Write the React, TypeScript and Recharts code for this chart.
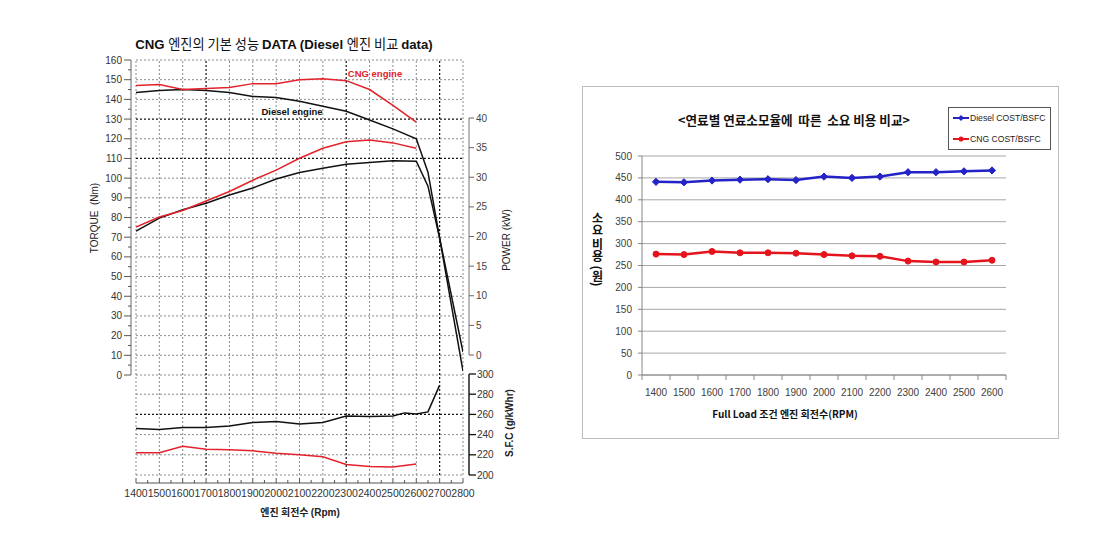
import React from 'react';
import { LineChart, Line, XAxis, YAxis, CartesianGrid, ReferenceLine } from 'recharts';

const W = 1103;
const H = 556;

// ---------------- Left chart: CNG vs Diesel engine performance ----------------
const rpmGrid = [1400, 1500, 1600, 1700, 1800, 1900, 2000, 2100, 2200, 2300, 2400, 2500, 2600, 2700, 2800];
const rpmBoldGrid = [1700, 2300, 2700];
const rpmAxisTicks = [1400, 1450, 1500, 1550, 1600, 1650, 1700, 1750, 1800, 1850, 1900, 1950, 2000, 2050, 2100, 2150, 2200, 2250, 2300, 2350, 2400, 2450, 2500, 2550, 2600, 2650, 2700, 2750, 2800];
const rpmCng = [1400, 1500, 1600, 1700, 1800, 1900, 2000, 2100, 2200, 2300, 2400, 2500, 2600];
const rpmDiesel = [1400, 1500, 1600, 1700, 1800, 1900, 2000, 2100, 2200, 2300, 2400, 2500, 2600, 2650, 2700, 2800];
const cngTorque = [147, 147.5, 145, 145.5, 146, 148, 148, 150, 150.5, 149.5, 145, 137, 128.5];
const dieselTorque = [143.5, 144.5, 145, 144.5, 143.5, 141.5, 141, 139, 136.5, 134, 129.5, 125, 120, 103, 69.5, 2];
const cngPower = [21.6, 23.3, 24.4, 26.0, 27.6, 29.5, 31.2, 33.2, 34.9, 36.0, 36.3, 35.8, 34.9];
const dieselPower = [20.9, 23.1, 24.5, 25.6, 27.0, 28.2, 29.7, 30.8, 31.5, 32.2, 32.5, 32.8, 32.7, 28.5, 19.7, 0.5];
const rpmDieselSfc = [1400, 1500, 1600, 1700, 1800, 1900, 2000, 2100, 2200, 2300, 2400, 2500, 2550, 2600, 2650, 2700];
const dieselSfc = [246, 245, 247, 247, 248.5, 252, 253, 250.5, 252, 258.5, 258, 258.5, 261.5, 260.5, 262.5, 289];
const cngSfc = [222, 222, 228.5, 225.5, 225, 224, 221.5, 220, 218, 210.5, 208.5, 208, 211];
const torqueTicks = [0, 5, 10, 15, 20, 25, 30, 35, 40, 45, 50, 55, 60, 65, 70, 75, 80, 85, 90, 95, 100, 105, 110, 115, 120, 125, 130, 135, 140, 145, 150, 155, 160];
const torqueGrid = [0, 10, 20, 30, 40, 50, 60, 70, 80, 90, 100, 110, 120, 130, 140, 150, 160];
const torqueBoldGrid = [110, 130];
const powerTicks = [0, 5, 10, 15, 20, 25, 30, 35, 40];
const sfcTicks = [200, 220, 240, 260, 280, 300];
const sfcGrid = [200, 220, 240, 260, 280];
const sfcBoldGrid = [260];

// ---------------- Right chart: cost comparison ----------------
const costRpm = [1400, 1500, 1600, 1700, 1800, 1900, 2000, 2100, 2200, 2300, 2400, 2500, 2600];
const dieselCost = [441, 440, 444, 446, 447, 445, 453, 450, 453, 463, 463, 465, 467];
const cngCost = [276, 275, 282, 279, 279, 278, 275, 272, 271, 260, 258, 258, 262];
const costYTicks = [0, 50, 100, 150, 200, 250, 300, 350, 400, 450, 500];
const costXTicks = [1350, 1400, 1450, 1500, 1550, 1600, 1650, 1700, 1750, 1800, 1850, 1900, 1950, 2000, 2050, 2100, 2150, 2200, 2250, 2300, 2350, 2400, 2450, 2500, 2550, 2600, 2650];

const zip = (xs: number[], ys: number[]) => xs.map((rpm, i) => ({ rpm, v: ys[i] }));
const cngTorqueData = zip(rpmCng, cngTorque);
const dieselTorqueData = zip(rpmDiesel, dieselTorque);
const cngPowerData = zip(rpmCng, cngPower);
const dieselPowerData = zip(rpmDiesel, dieselPower);
const cngSfcData = zip(rpmCng, cngSfc);
const dieselSfcData = zip(rpmDieselSfc, dieselSfc);
const costData = costRpm.map((rpm, i) => ({ rpm, diesel: dieselCost[i], cng: cngCost[i] }));

const FONT = "'Liberation Sans', Arial, 'Noto Sans CJK KR', sans-serif";
const KFONT = "'Noto Sans CJK KR', 'Liberation Sans', sans-serif";
const RED = '#e3222b';
const BLACK = '#111111';
const GRID = '#8a8a8a';
const GRID_BOLD = '#111111';
const BLUE = '#2323c8';
const RED2 = '#e5141c';

const layer: React.CSSProperties = { position: 'absolute', left: 0, top: 0, width: W, height: H };
const xPad = { left: 5, right: 6 };

const TorqueTick = (p: any) => {
  const { x, y, payload } = p;
  const v = payload.value;
  const major = v % 10 === 0;
  return (
    <g>
      <line x1={x} x2={x - (major ? 7 : 3)} y1={y} y2={y} stroke="#555" />
      {major && (
        <text x={x - 9} y={y} dy="0.35em" textAnchor="end" fontSize={10} fill="#333">
          {v}
        </text>
      )}
    </g>
  );
};

const PowerTick = (p: any) => {
  const { x, y, payload } = p;
  return (
    <g>
      <line x1={x} x2={x + 5} y1={y} y2={y} stroke="#666" />
      <text x={x + 7} y={y} dy="0.35em" textAnchor="start" fontSize={10} fill="#444">
        {payload.value}
      </text>
    </g>
  );
};

const SfcTick = (p: any) => {
  const { x, y, payload } = p;
  return (
    <g>
      <line x1={x} x2={x + 7} y1={y} y2={y} stroke="#111" strokeWidth={1.3} />
      <text x={x + 8} y={y} dy="0.35em" textAnchor="start" fontSize={10} fill="#333">
        {payload.value}
      </text>
    </g>
  );
};

const RpmTick = (p: any) => {
  const { x, y, payload } = p;
  const v = payload.value;
  const major = v % 100 === 0;
  return (
    <g>
      <line x1={x} x2={x} y1={y} y2={y - (major ? 5 : 3)} stroke="#555" />
      {major && (
        <text x={x} y={y + 10} dy="0.35em" textAnchor="middle" fontSize={10.5} fill="#333">
          {v}
        </text>
      )}
    </g>
  );
};

const CostXTick = (p: any) => {
  const { x, y, payload } = p;
  const v = payload.value;
  if (v % 100 === 50) return <line x1={x} x2={x} y1={y} y2={y + 5} stroke="#868686" />;
  return (
    <text x={x} y={y + 17} dy="0.35em" textAnchor="middle" fontSize={10} fill="#404040">
      {v}
    </text>
  );
};

const renderDiamond = (p: any) => {
  const { cx, cy, index } = p;
  if (cx == null || cy == null) return <g key={'d' + index} />;
  const s = 3.6;
  return (
    <path
      key={'d' + index}
      d={`M${cx},${cy - s}L${cx + s},${cy}L${cx},${cy + s}L${cx - s},${cy}Z`}
      fill={BLUE}
      stroke={BLUE}
    />
  );
};

const Txt = ({ x, y, rot = 0, style, children }: any) => (
  <div
    style={{
      position: 'absolute',
      left: x,
      top: y,
      transform: `translate(-50%, -50%) rotate(${rot}deg)`,
      whiteSpace: 'pre',
      lineHeight: 1,
      ...style,
    }}
  >
    {children}
  </div>
);

export default function App() {
  return (
    <div style={{ position: 'absolute', left: 0, top: 0, width: W, height: H, background: '#fff', fontFamily: FONT, overflow: 'hidden' }}>
      {/* Upper section: torque */}
      <div style={layer}>
        <LineChart width={W} height={H} margin={{ top: 60, right: 634, bottom: 181, left: 86 }}>
          <XAxis type="number" dataKey="rpm" domain={[1400, 2800]} ticks={rpmGrid} padding={xPad} hide allowDataOverflow />
          <YAxis
            yAxisId="t"
            type="number"
            domain={[0, 160]}
            ticks={torqueTicks}
            interval={0}
            width={45}
            tickLine={false}
            tickSize={0}
            tickMargin={0}
            axisLine={{ stroke: '#666' }}
            tick={<TorqueTick />}
            allowDataOverflow
          />
          {rpmGrid.map((r) => (
            <ReferenceLine
              key={'v' + r}
              yAxisId="t"
              x={r}
              stroke={rpmBoldGrid.includes(r) ? GRID_BOLD : GRID}
              strokeWidth={rpmBoldGrid.includes(r) ? 1.2 : 1}
              strokeDasharray="2 2"
            />
          ))}
          {torqueGrid.map((v) => (
            <ReferenceLine
              key={'h' + v}
              yAxisId="t"
              segment={[{ x: 1400, y: v }, { x: 2800, y: v }]}
              stroke={torqueBoldGrid.includes(v) ? GRID_BOLD : GRID}
              strokeWidth={torqueBoldGrid.includes(v) ? 1.2 : 1}
              strokeDasharray="2 2"
            />
          ))}
          <Line yAxisId="t" data={dieselTorqueData} dataKey="v" stroke={BLACK} strokeWidth={1.5} dot={false} isAnimationActive={false} />
          <Line yAxisId="t" data={cngTorqueData} dataKey="v" stroke={RED} strokeWidth={1.5} dot={false} isAnimationActive={false} />
        </LineChart>
      </div>

      {/* Upper section: power */}
      <div style={layer}>
        <LineChart width={W} height={H} margin={{ top: 118, right: 589, bottom: 201, left: 131 }}>
          <XAxis type="number" dataKey="rpm" domain={[1400, 2800]} ticks={rpmGrid} padding={xPad} hide allowDataOverflow />
          <YAxis
            yAxisId="p"
            orientation="right"
            type="number"
            domain={[0, 40]}
            ticks={powerTicks}
            interval={0}
            width={45}
            tickLine={false}
            tickSize={0}
            tickMargin={0}
            axisLine={{ stroke: '#777' }}
            tick={<PowerTick />}
            allowDataOverflow
          />
          <Line yAxisId="p" data={dieselPowerData} dataKey="v" stroke={BLACK} strokeWidth={1.5} dot={false} isAnimationActive={false} />
          <Line yAxisId="p" data={cngPowerData} dataKey="v" stroke={RED} strokeWidth={1.5} dot={false} isAnimationActive={false} />
        </LineChart>
      </div>

      {/* Lower section: S.F.C */}
      <div style={layer}>
        <LineChart width={W} height={H} margin={{ top: 374, right: 589, bottom: 81, left: 131 }}>
          <XAxis type="number" dataKey="rpm" domain={[1400, 2800]} ticks={rpmGrid} padding={xPad} hide allowDataOverflow />
          <YAxis
            yAxisId="s"
            orientation="right"
            type="number"
            domain={[200, 300]}
            ticks={sfcTicks}
            interval={0}
            width={45}
            tickLine={false}
            tickSize={0}
            tickMargin={0}
            axisLine={{ stroke: '#111', strokeWidth: 1.4 }}
            tick={<SfcTick />}
            allowDataOverflow
          />
          {rpmGrid.map((r) => (
            <ReferenceLine
              key={'sv' + r}
              yAxisId="s"
              x={r}
              stroke={rpmBoldGrid.includes(r) ? GRID_BOLD : GRID}
              strokeWidth={rpmBoldGrid.includes(r) ? 1.2 : 1}
              strokeDasharray="2 2"
            />
          ))}
          {sfcGrid.map((v) => (
            <ReferenceLine
              key={'sh' + v}
              yAxisId="s"
              segment={[{ x: 1400, y: v }, { x: 2800, y: v }]}
              stroke={sfcBoldGrid.includes(v) ? GRID_BOLD : GRID}
              strokeWidth={sfcBoldGrid.includes(v) ? 1.2 : 1}
              strokeDasharray="2 2"
            />
          ))}
          <Line yAxisId="s" data={dieselSfcData} dataKey="v" stroke={BLACK} strokeWidth={1.5} dot={false} isAnimationActive={false} />
          <Line yAxisId="s" data={cngSfcData} dataKey="v" stroke={RED} strokeWidth={1.5} dot={false} isAnimationActive={false} />
        </LineChart>
      </div>

      {/* RPM axis */}
      <div style={layer}>
        <LineChart width={W} height={H} margin={{ top: 440, right: 640, bottom: 43, left: 136 }} data={dieselTorqueData}>
          <XAxis
            type="number"
            dataKey="rpm"
            domain={[1400, 2800]}
            ticks={rpmAxisTicks}
            interval={0}
            height={30}
            tickLine={false}
            tickSize={0}
            tickMargin={0}
            axisLine={{ stroke: '#555' }}
            tick={<RpmTick />}
            allowDataOverflow
          />
          <YAxis hide domain={[0, 1]} />
        </LineChart>
      </div>

      {/* Left chart texts */}
      <Txt x={284} y={44} style={{ fontSize: 13.2, color: '#111' }}>
        <b>CNG </b>
        <span style={{ fontFamily: KFONT }}>엔진의 기본 성능 </span>
        <b>DATA (Diesel </b>
        <span style={{ fontFamily: KFONT }}>엔진 비교 </span>
        <b>data)</b>
      </Txt>
      <Txt x={375} y={74} style={{ fontSize: 9.5, fontWeight: 'bold', color: RED }}>CNG engine</Txt>
      <Txt x={292} y={112} style={{ fontSize: 9.5, fontWeight: 'bold', color: '#111' }}>Diesel engine</Txt>
      <Txt x={95} y={218} rot={-90} style={{ fontSize: 10, color: '#222' }}>TORQUE  (Nm)</Txt>
      <Txt x={507} y={240} rot={-90} style={{ fontSize: 10, color: '#222' }}>POWER (kW)</Txt>
      <Txt x={510} y={423} rot={-90} style={{ fontSize: 10, fontWeight: 'bold', color: '#222' }}>S.F.C (g/kWhr)</Txt>
      <Txt x={300} y={512} style={{ fontSize: 10, fontWeight: 'bold', color: '#222' }}>
        <span style={{ fontFamily: KFONT }}>엔진 회전수 </span>(Rpm)
      </Txt>

      {/* Right chart frame */}
      <div style={{ position: 'absolute', left: 582, top: 86, width: 475, height: 351, border: '1.5px solid #bdbdbd' }} />

      {/* Right chart */}
      <div style={layer}>
        <LineChart width={W} height={H} margin={{ top: 156, right: 97, bottom: 151, left: 602 }} data={costData}>
          <CartesianGrid vertical={false} stroke="#a6a6a6" />
          <XAxis
            type="number"
            dataKey="rpm"
            domain={[1350, 2650]}
            ticks={costXTicks}
            interval={0}
            height={30}
            tickLine={false}
            tickSize={0}
            tickMargin={0}
            axisLine={{ stroke: '#868686' }}
            tick={<CostXTick />}
            allowDataOverflow
          />
          <YAxis
            type="number"
            domain={[0, 500]}
            ticks={costYTicks}
            interval={0}
            width={40}
            tickSize={4}
            tickMargin={6}
            axisLine={{ stroke: '#868686' }}
            tickLine={{ stroke: '#868686' }}
            tick={{ fontSize: 10, fill: '#404040' }}
          />
          <Line dataKey="diesel" stroke={BLUE} strokeWidth={2.5} dot={renderDiamond} isAnimationActive={false} />
          <Line dataKey="cng" stroke={RED2} strokeWidth={2.5} dot={{ r: 3, fill: RED2, stroke: RED2, strokeWidth: 1 }} isAnimationActive={false} />
        </LineChart>
      </div>

      {/* Right chart texts */}
      <Txt x={794} y={120} style={{ fontSize: 12.6, fontWeight: 'bold', fontFamily: KFONT, color: '#111' }}>
        {'<연료별 연료소모율에  따른  소요 비용 비교>'}
      </Txt>
      <div
        style={{
          position: 'absolute',
          left: 591,
          top: 212,
          writingMode: 'vertical-rl',
          fontSize: 12,
          fontWeight: 'bold',
          fontFamily: KFONT,
          lineHeight: 1,
          color: '#111',
          whiteSpace: 'pre',
        }}
      >
        소요 비용 (원)
      </div>
      <Txt x={785} y={414} style={{ fontSize: 10, fontWeight: 'bold', fontFamily: KFONT, color: '#111' }}>
        Full Load 조건 엔진 회전수(RPM)
      </Txt>

      {/* Legend */}
      <div
        style={{
          position: 'absolute',
          left: 948,
          top: 107,
          width: 101,
          height: 41,
          border: '1px solid #555',
          background: '#fff',
          fontSize: 8.6,
          color: '#222',
        }}
      >
        <div style={{ position: 'absolute', left: 3, top: 5, display: 'flex', alignItems: 'center' }}>
          <svg width={18} height={8}>
            <line x1={1} x2={17} y1={4} y2={4} stroke={BLUE} strokeWidth={2} />
            <path d="M9,1L12,4L9,7L6,4Z" fill={BLUE} />
          </svg>
          <span>Diesel COST/BSFC</span>
        </div>
        <div style={{ position: 'absolute', left: 3, top: 26, display: 'flex', alignItems: 'center' }}>
          <svg width={18} height={8}>
            <line x1={1} x2={17} y1={4} y2={4} stroke={RED2} strokeWidth={2} />
            <circle cx={9} cy={4} r={2.5} fill={RED2} />
          </svg>
          <span>CNG COST/BSFC</span>
        </div>
      </div>
    </div>
  );
}
